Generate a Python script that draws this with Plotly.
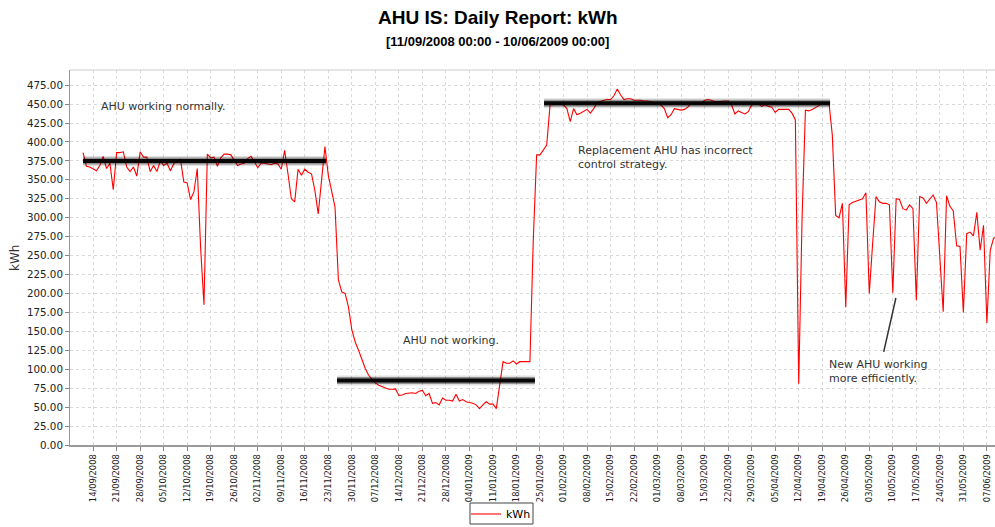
import pandas as pd
import plotly.graph_objects as go

# ---- data (daily kWh, 11/09/2008 .. 10/06/2009) ----
start_date = "2008-09-11"
kwh = [
    386, 368, 367, 365, 362, 369, 381, 365, 372, 337,
    386, 386, 387, 367, 361, 367, 355, 387, 380, 380,
    361, 369, 361, 375, 369, 372, 362, 371, 375, 377,
    347, 346, 324, 334, 365, 260, 185, 384, 379, 380,
    368, 379, 384, 384, 383, 376, 369, 371, 372, 378,
    381, 374, 366, 372, 372, 371, 370, 372, 371, 364,
    389, 358, 325, 321, 364, 356, 364, 360, 358, 336,
    305, 350, 394, 356, 336, 314, 218, 202, 200, 182,
    152, 136, 125, 112, 101, 92, 87, 82, 79, 77,
    75, 73.5, 73.5, 74, 65.5, 66, 68, 69, 69, 68,
    71, 72, 65, 68, 55, 56, 53, 62, 59, 59,
    58, 67, 58, 60, 57, 56, 55, 53, 48, 53,
    57, 54, 54, 48, 80, 110, 108, 108, 111, 107,
    110, 110, 110, 110, 270, 383, 383, 389, 396, 449,
    450, 450, 450, 449, 444, 427, 444, 436, 438, 440,
    443, 438, 444, 452, 454, 455, 456, 456, 461, 470,
    462, 456, 457, 457, 455, 455, 455, 454, 454, 453,
    451, 450, 449, 444, 432, 436, 444, 443, 442, 443,
    446, 451, 451, 451, 451, 455, 456, 455, 453, 453,
    454, 454, 454, 449, 437, 441, 439, 437, 440, 449,
    450, 450, 447, 449, 447, 446, 439, 443, 443, 443,
    443, 438, 429, 81, 300, 442, 441, 443, 445, 448,
    451, 452, 452, 409, 303, 300, 319, 182, 317, 320,
    322, 323, 325, 333, 200, 266, 328, 321, 319, 319,
    317, 201, 325, 324, 312, 310, 317, 312, 191, 328,
    326, 319, 325, 330, 320, 246, 176, 329, 315, 309,
    263, 262, 175, 279, 281, 276, 307, 257, 290, 161,
    257, 273, 275,
]
dates = pd.date_range(start_date, periods=len(kwh), freq="D")

y_ticks = [i * 25 for i in range(20)]
y_tick_labels = [f"{v:.2f}" for v in y_ticks]

title_text = "AHU IS: Daily Report: kWh"
subtitle_text = "[11/09/2008 00:00 - 10/06/2009 00:00]"
y_title = "kWh"

# annotation bars (start date, end date, level)
bars = [
    ("2008-09-11", "2008-11-22 08:00", 375),
    ("2008-11-25 14:00", "2009-01-23 12:00", 85),
    ("2009-01-26 05:00", "2009-04-21 08:00", 451),
]
notes = [
    ("2008-09-15 19:00", 447, "AHU working normally."),
    ("2008-12-14 14:00", 138.5, "AHU not working."),
    ("2009-02-04 17:00", 379, "Replacement AHU has incorrect<br>control strategy."),
    ("2009-04-20 07:00", 97, "New AHU working<br>more efficiently."),
]
pointer = (("2009-05-07 07:00", 123), ("2009-05-10 22:00", 194))

# layout geometry (pixels)
W, H = 995, 527
L, R, T, B = 70, 0, 70, 82
PW, PH = W - L - R, H - T - B


def px_to_paper(xp, yp):
    return (xp - L) / PW, (H - B - yp) / PH


fig = go.Figure()
fig.add_trace(go.Scatter(
    x=dates, y=kwh, mode="lines", name="kWh",
    line=dict(color="#ff0000", width=1.1),
))

shapes = []
for x0, x1, lvl in bars:
    for w, c in [(10, "rgba(0,0,0,0.12)"), (7, "rgba(0,0,0,0.35)"), (4, "rgba(0,0,0,0.95)")]:
        shapes.append(dict(type="line", xref="x", yref="y", x0=x0, x1=x1, y0=lvl, y1=lvl,
                           line=dict(color=c, width=w), layer="above"))
shapes.append(dict(type="line", xref="x", yref="y",
                   x0=pointer[0][0], y0=pointer[0][1], x1=pointer[1][0], y1=pointer[1][1],
                   line=dict(color="#333333", width=1.5)))
# top border of plot area
shapes.append(dict(type="line", xref="paper", yref="paper", x0=0, x1=1, y0=1, y1=1,
                   line=dict(color="#cccccc", width=1)))
# legend frame
lx0, ly0 = px_to_paper(470, 524)
lx1, ly1 = px_to_paper(533, 503)
shapes.append(dict(type="rect", xref="paper", yref="paper", x0=lx0, x1=lx1, y0=ly0, y1=ly1,
                   line=dict(color="#444444", width=1), fillcolor="rgba(255,255,255,0)"))

annotations = []
for x, y, t in notes:
    annotations.append(dict(x=x, y=y, xref="x", yref="y", text=t, showarrow=False,
                            xanchor="left", yanchor="middle", align="left",
                            font=dict(family="DejaVu Sans", size=11, color="#333333")))
tx, ty = px_to_paper(497.5, 18)
annotations.append(dict(x=tx, y=ty, xref="paper", yref="paper",
                        text=f"<b>{title_text}</b>", showarrow=False,
                        xanchor="center", yanchor="middle",
                        font=dict(family="Liberation Sans", size=19, color="#000000")))
sx, sy = px_to_paper(497.5, 41)
annotations.append(dict(x=sx, y=sy, xref="paper", yref="paper",
                        text=f"<b>{subtitle_text}</b>", showarrow=False,
                        xanchor="center", yanchor="middle",
                        font=dict(family="Liberation Sans", size=13, color="#000000")))
kx, ky = px_to_paper(15, 258)
annotations.append(dict(x=kx, y=ky, xref="paper", yref="paper", text=y_title,
                        showarrow=False, textangle=-90, xanchor="center", yanchor="middle",
                        font=dict(family="DejaVu Sans", size=12, color="#333333")))

fig.update_layout(
    width=W, height=H,
    margin=dict(l=L, r=R, t=T, b=B, autoexpand=False),
    paper_bgcolor="white", plot_bgcolor="white",
    shapes=shapes, annotations=annotations,
    showlegend=True,
    legend=dict(orientation="h", x=501 / W, xanchor="center", xref="container",
                y=1 - 514 / H, yanchor="middle", yref="container",
                borderwidth=0, itemwidth=30,
                bgcolor="rgba(255,255,255,0)",
                font=dict(family="DejaVu Sans", size=11, color="#000000"),
                tracegroupgap=0),
    xaxis=dict(
        type="date", automargin=False,
        range=["2008-09-07 03:00", "2009-06-09 10:00"],
        tick0="2008-09-14", dtick=7 * 24 * 3600 * 1000,
        tickformat="%d/%m/%Y", tickangle=-90,
        tickfont=dict(family="DejaVu Sans", size=8.3, color="#222222"),
        ticks="outside", ticklen=4, tickcolor="#888888",
        showgrid=True, gridcolor="#d9d9d9", griddash="3px,3px", gridwidth=1,
        showline=True, linecolor="#999999", linewidth=2, mirror=False,
        zeroline=False,
    ),
    yaxis=dict(
        automargin=False,
        range=[0, 495],
        tickvals=y_ticks, ticktext=y_tick_labels,
        tickfont=dict(family="DejaVu Sans", size=10.3, color="#222222"),
        ticks="outside", ticklen=4, tickcolor="#888888",
        showgrid=True, gridcolor="#d9d9d9", griddash="3px,3px", gridwidth=1,
        showline=True, linecolor="#999999", linewidth=1,
        zeroline=False,
    ),
)

fig.write_html(
    "out.html",
    config={"displayModeBar": False},
    post_script="document.body.style.margin='0';document.body.style.overflow='hidden';",
)
